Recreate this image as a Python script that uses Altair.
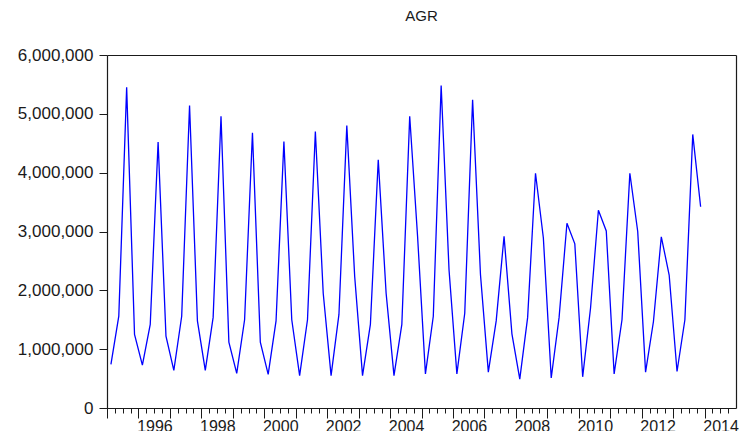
import altair as alt
import pandas as pd

# Quarterly AGR series, 1995Q1 - 2013Q4
start_year = 1995
q1_values = [740000, 730000, 640000, 640000, 590000, 570000, 550000, 550000, 550000, 550000,
             580000, 580000, 610000, 490000, 510000, 530000, 580000, 610000, 620000]
q2_values = [1560000, 1420000, 1560000, 1540000, 1500000, 1480000, 1500000, 1590000, 1420000, 1420000,
             1560000, 1610000, 1480000, 1540000, 1540000, 1700000, 1500000, 1470000, 1500000]
q3_values = [5450000, 4520000, 5140000, 4960000, 4680000, 4530000, 4700000, 4800000, 4220000, 4960000,
             5480000, 5240000, 2920000, 3990000, 3140000, 3360000, 3990000, 2910000, 4650000]
q4_values = [1250000, 1220000, 1480000, 1120000, 1120000, 1500000, 1950000, 2240000, 1950000, 2920000,
             2350000, 2270000, 1260000, 2890000, 2790000, 3010000, 3000000, 2260000, 3420000]

y_ticks = [0, 1000000, 2000000, 3000000, 4000000, 5000000, 6000000]
x_domain = [1995, 2015]
y_domain = [0, 6000000]

rows = []
for i, year in enumerate(range(start_year, start_year + len(q1_values))):
    for q, series in enumerate([q1_values, q2_values, q3_values, q4_values], start=1):
        rows.append({"t": year + (q - 0.5) / 4.0, "AGR": series[i]})
df = pd.DataFrame(rows)

year_ticks = list(range(x_domain[0], x_domain[1]))          # 1995 ... 2014
quarter_ticks = [x_domain[0] + k / 4.0 for k in range((x_domain[1] - x_domain[0]) * 4)]

FONT = "Liberation Sans"
INK = "#1a1a1a"

x_scale = alt.Scale(domain=x_domain, nice=False, zero=False)
y_scale = alt.Scale(domain=y_domain, nice=False)

base = alt.Chart(df)

# the series, with the year ticks + labels and the left axis
line = base.mark_line(color="#0000ff", strokeWidth=1.3).encode(
    x=alt.X(
        "t:Q",
        scale=x_scale,
        axis=alt.Axis(
            orient="bottom",
            title=None,
            values=year_ticks,
            labelExpr="(datum.value % 2 === 0) ? toString(datum.value) : ''",
            tickSize=10,
            labelOffset=16,
            labelPadding=0,
            labelOverlap=False,
            labelFlush=False,
            labelBound=False,
            grid=False,
            domain=True,
            domainColor=INK,
            domainWidth=1.2,
            tickColor=INK,
            labelColor=INK,
            labelFont=FONT,
            labelFontSize=16,
        ),
    ),
    y=alt.Y(
        "AGR:Q",
        scale=y_scale,
        axis=alt.Axis(
            orient="left",
            title=None,
            values=y_ticks,
            format=",d",
            tickSize=8,
            labelPadding=6,
            grid=False,
            domainColor=INK,
            domainWidth=1.2,
            tickColor=INK,
            labelColor=INK,
            labelFont=FONT,
            labelFontSize=17,
            labelFlush=False,
        ),
    ),
)

# invisible copy carrying the quarterly minor ticks and the right frame line
minor = base.mark_line(opacity=0).encode(
    x=alt.X(
        "t:Q",
        scale=x_scale,
        axis=alt.Axis(orient="bottom", title=None, values=quarter_ticks, labels=False,
                      tickSize=5, tickColor=INK, grid=False, domain=False),
    ),
    y=alt.Y(
        "AGR:Q",
        scale=y_scale,
        axis=alt.Axis(orient="right", title=None, labels=False, ticks=False, grid=False,
                      domain=True, domainColor=INK, domainWidth=1.2),
    ),
)

# invisible copy carrying the top frame line
top = base.mark_line(opacity=0).encode(
    x=alt.X(
        "t:Q",
        scale=x_scale,
        axis=alt.Axis(orient="top", title=None, labels=False, ticks=False, grid=False,
                      domain=True, domainColor=INK, domainWidth=1.2),
    ),
    y=alt.Y("AGR:Q", scale=y_scale, axis=None),
)

chart = alt.layer(line, minor, top).resolve_axis(
    x="independent", y="independent"
).properties(
    width=629,
    height=353,
    padding={"left": 9, "top": 1, "right": 0, "bottom": -3},
    title=alt.TitleParams(
        "AGR",
        anchor="middle",
        frame="group",
        font=FONT,
        fontSize=15,
        fontWeight="normal",
        color=INK,
        baseline="alphabetic",
        offset=10,
    ),
).configure_view(
    stroke=None,
)

chart.save("out.html", embed_options={"renderer": "svg", "actions": False})
